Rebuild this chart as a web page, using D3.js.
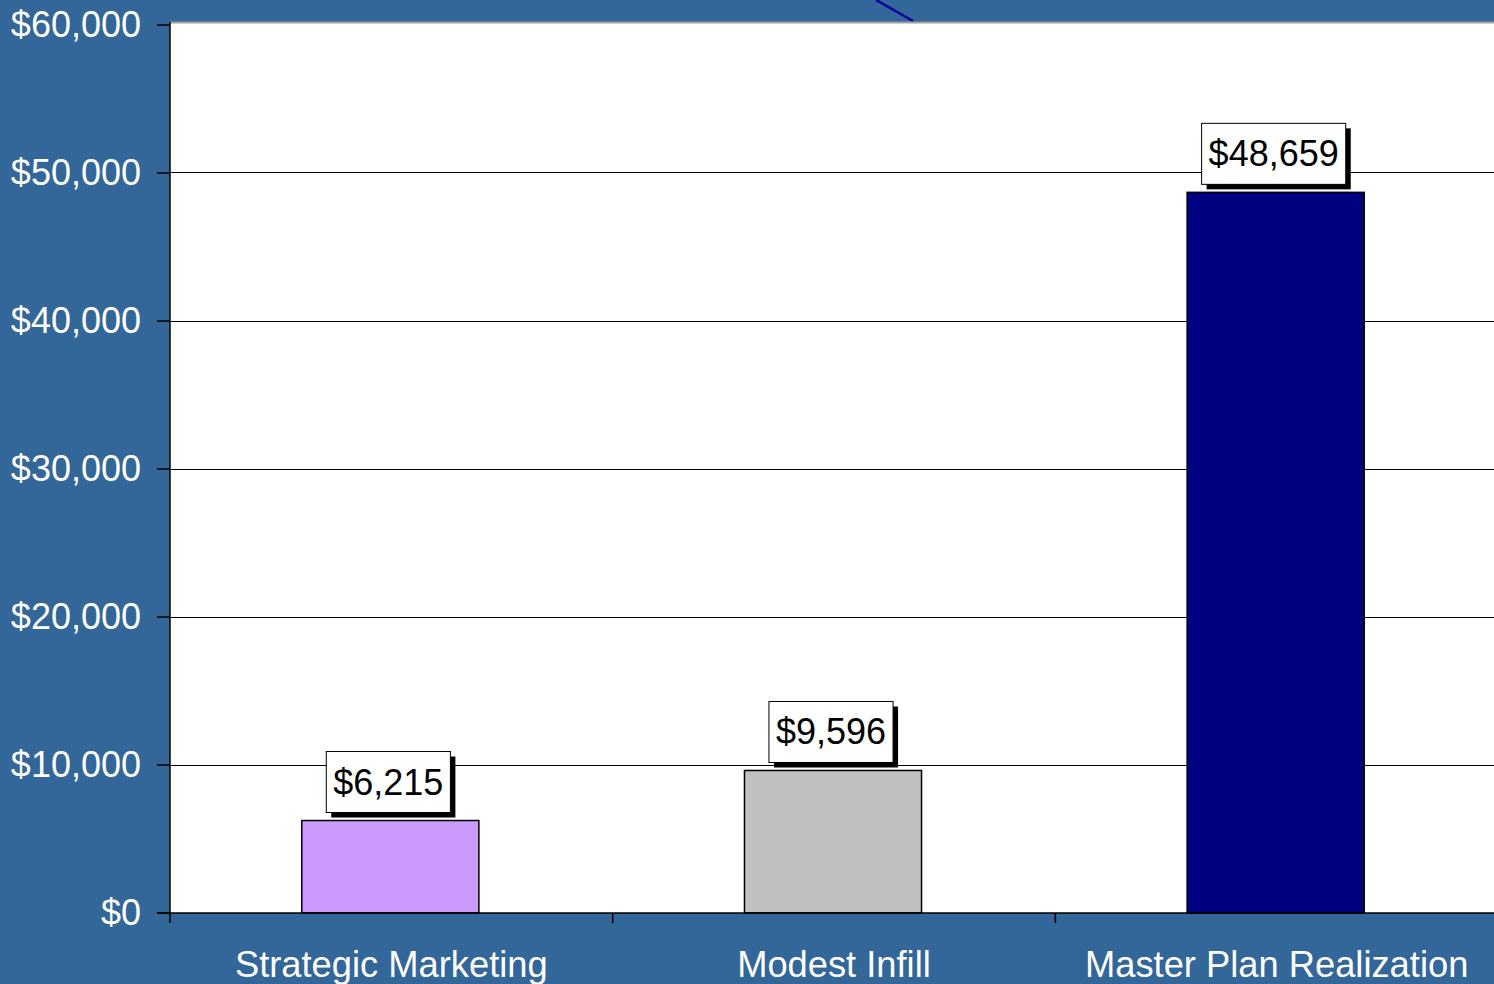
<!DOCTYPE html>
<html>
<head>
<meta charset="utf-8">
<script src="https://cdn.jsdelivr.net/npm/d3@7"></script>
<style>
  html, body { margin: 0; padding: 0; background: #336699; overflow: hidden; }
  svg { display: block; }
  text { font-family: "Liberation Sans", Arial, sans-serif; }
</style>
</head>
<body>
<svg id="chart" width="1494" height="984"></svg>
<script>
// Cost per scenario
const categories = ["Strategic Marketing", "Modest Infill", "Master Plan Realization"];
const values = [6215, 9596, 48659];
const barColors = ["#cc99ff", "#c0c0c0", "#000080"];
const valueLabels = ["$6,215", "$9,596", "$48,659"];
const yTicks = [0, 10000, 20000, 30000, 40000, 50000, 60000];

const W = 1494, H = 984;
const plot = { left: 170, top: 22, right: 1498, bottom: 913 };

const svg = d3.select("#chart");

svg.append("rect").attr("width", W).attr("height", H).attr("fill", "#336699");

// Decorative diagonal stroke at the top edge
svg.append("line")
  .attr("x1", 876).attr("y1", 0).attr("x2", 913).attr("y2", 21)
  .attr("stroke", "#0000a0").attr("stroke-width", 2.5);

const x = d3.scaleBand().domain(categories).range([plot.left, plot.right]).paddingInner(0).paddingOuter(0);
const y = d3.scaleLinear().domain([0, 60000]).range([912.5, 24.5]);

// Plot area
svg.append("rect")
  .attr("x", plot.left).attr("y", plot.top)
  .attr("width", plot.right - plot.left).attr("height", plot.bottom - plot.top)
  .attr("fill", "#ffffff");
svg.append("line")
  .attr("x1", plot.left).attr("x2", plot.right).attr("y1", plot.top + 0.5).attr("y2", plot.top + 0.5)
  .attr("stroke", "#a0a0a0").attr("stroke-width", 2);

// Gridlines
svg.append("g").selectAll("line")
  .data(yTicks.filter(d => d > 0 && d < 60000))
  .join("line")
  .attr("x1", plot.left).attr("x2", plot.right)
  .attr("y1", d => Math.round(y(d)) + 0.5).attr("y2", d => Math.round(y(d)) + 0.5)
  .attr("stroke", "#000").attr("stroke-width", 1);

// Bars
const bw = x.bandwidth() * 0.4;
svg.append("g").selectAll("rect")
  .data(values)
  .join("rect")
  .attr("x", (d, i) => x(categories[i]) + (x.bandwidth() - bw) / 2 - 1)
  .attr("y", d => y(d))
  .attr("width", bw)
  .attr("height", d => plot.bottom - y(d))
  .attr("fill", (d, i) => barColors[i])
  .attr("stroke", "#000").attr("stroke-width", 1.5);

// Y axis
const yAxis = d3.axisLeft(y).tickValues(yTicks).tickSize(13).tickPadding(16)
  .tickFormat(d => "$" + d3.format(",")(d));
const yg = svg.append("g").attr("transform", `translate(${plot.left},0)`).call(yAxis);
yg.select(".domain").remove();
yg.selectAll(".tick line").attr("stroke", "#000").attr("stroke-width", 1.5);
yg.selectAll(".tick text").attr("fill", "#fff").style("font-size", "36px")
  .style("font-family", "'Liberation Sans', Arial, sans-serif");
svg.append("line")
  .attr("x1", plot.left).attr("x2", plot.left).attr("y1", plot.top).attr("y2", plot.bottom)
  .attr("stroke", "#000").attr("stroke-width", 1.5);

// X axis baseline and category boundary ticks
svg.append("line")
  .attr("x1", plot.left - 13).attr("x2", plot.right).attr("y1", plot.bottom).attr("y2", plot.bottom)
  .attr("stroke", "#000").attr("stroke-width", 1.5);
const boundaries = categories.map(c => x(c));
svg.append("g").selectAll("line")
  .data(boundaries)
  .join("line")
  .attr("x1", d => d).attr("x2", d => d)
  .attr("y1", plot.bottom).attr("y2", plot.bottom + 10)
  .attr("stroke", "#000").attr("stroke-width", 1.5);

svg.append("g").selectAll("text")
  .data(categories)
  .join("text")
  .attr("x", d => x(d) + x.bandwidth() / 2)
  .attr("y", 977)
  .attr("text-anchor", "middle")
  .attr("fill", "#fff")
  .style("font-size", "36.3px")
  .text(d => d);

// Value labels in shadowed boxes
const lab = svg.append("g").selectAll("g")
  .data(values)
  .join("g")
  .attr("transform", (d, i) => `translate(${x(categories[i]) + x.bandwidth() / 2},${y(d) - 8})`);

lab.each(function (d, i) {
  const g = d3.select(this);
  const t = g.append("text")
    .attr("text-anchor", "middle")
    .attr("x", -3)
    .attr("y", -18)
    .style("font-size", "36px")
    .attr("fill", "#000")
    .text(valueLabels[i]);
  const tw = t.node().getComputedTextLength();
  const bwid = tw + 14, bh = 61;
  g.insert("rect", "text")
    .attr("x", -bwid / 2 - 3 + 5).attr("y", -bh + 5)
    .attr("width", bwid).attr("height", bh)
    .attr("fill", "#000");
  g.insert("rect", "text")
    .attr("x", -bwid / 2 - 3).attr("y", -bh)
    .attr("width", bwid).attr("height", bh)
    .attr("fill", "#fff").attr("stroke", "#000").attr("stroke-width", 1);
});
</script>
</body>
</html>
